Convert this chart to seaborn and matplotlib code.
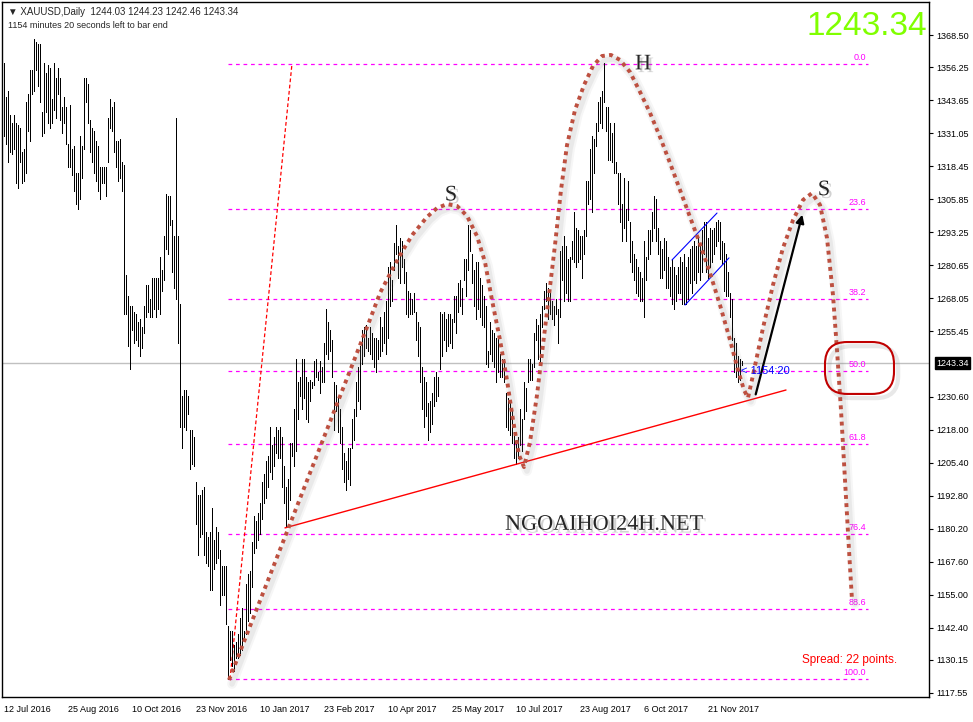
import numpy as np
import matplotlib
matplotlib.use("Agg")
import matplotlib.pyplot as plt
import matplotlib.patheffects as pe
from matplotlib import transforms
from matplotlib.patches import FancyBboxPatch
import seaborn as sns

# daily XAUUSD bars, 12 Jul 2016 .. mid Dec 2017 (high / low)
bar_high = [
    1358, 1345, 1347, 1338, 1335, 1338, 1335, 1334, 1333, 1324,
    1325, 1343, 1346, 1355, 1355, 1367, 1366, 1365, 1365, 1339,
    1358, 1354, 1357, 1356, 1344, 1358, 1352, 1356, 1352, 1341,
    1345, 1341, 1327, 1342, 1325, 1326, 1316, 1316, 1330, 1326,
    1352, 1352, 1350, 1336, 1333, 1332, 1328, 1326, 1318, 1318,
    1318, 1318, 1337, 1344, 1341, 1343, 1328, 1328, 1329, 1320,
    1319, 1277, 1269, 1265, 1265, 1263, 1262, 1259, 1260, 1257,
    1265, 1273, 1273, 1268, 1276, 1276, 1276, 1276, 1284, 1279,
    1292, 1308, 1307, 1307, 1298, 1292, 1337, 1292, 1266, 1231,
    1233, 1233, 1231, 1218, 1218, 1215, 1198, 1193, 1193, 1195,
    1196, 1179, 1177, 1179, 1188, 1176, 1181, 1179, 1172, 1166,
    1166, 1166, 1143, 1141, 1141, 1136, 1137, 1140, 1146, 1150,
    1141, 1159, 1163, 1164, 1175, 1185, 1183, 1186, 1190, 1198,
    1201, 1206, 1208, 1219, 1212, 1215, 1219, 1218, 1219, 1215,
    1204, 1196, 1199, 1213, 1213, 1226, 1245, 1236, 1238, 1245,
    1245, 1238, 1236, 1237, 1236, 1244, 1245, 1240, 1244, 1242,
    1251, 1264, 1259, 1256, 1252, 1236, 1235, 1231, 1226, 1219,
    1209, 1206, 1211, 1211, 1222, 1226, 1236, 1242, 1250, 1256,
    1257, 1258, 1253, 1257, 1255, 1253, 1253, 1252, 1261, 1257,
    1263, 1267, 1280, 1282, 1275, 1289, 1296, 1288, 1291, 1290,
    1283, 1278, 1271, 1270, 1268, 1270, 1263, 1259, 1257, 1242,
    1238, 1236, 1228, 1229, 1232, 1238, 1240, 1238, 1263, 1262,
    1263, 1260, 1262, 1262, 1260, 1269, 1269, 1274, 1275, 1272,
    1283, 1283, 1296, 1294, 1285, 1279, 1282, 1282, 1276, 1273,
    1269, 1265, 1248, 1259, 1256, 1255, 1253, 1253, 1247, 1245,
    1245, 1232, 1230, 1229, 1226, 1217, 1214, 1215, 1226, 1222,
    1236, 1234, 1245, 1245, 1243, 1255, 1260, 1258, 1262, 1265,
    1271, 1274, 1272, 1270, 1267, 1265, 1268, 1264, 1286, 1288,
    1292, 1288, 1283, 1284, 1290, 1301, 1295, 1294, 1292, 1292,
    1294, 1313, 1313, 1325, 1330, 1329, 1335, 1343, 1345, 1347,
    1358, 1341, 1341, 1335, 1331, 1335, 1320, 1316, 1316, 1304,
    1314, 1302, 1313, 1297, 1290, 1285, 1283, 1280, 1278, 1276,
    1290, 1284, 1294, 1294, 1301, 1307, 1306, 1295, 1290, 1287,
    1291, 1290, 1284, 1280, 1283, 1280, 1277, 1280, 1284, 1282,
    1285, 1280, 1284, 1287, 1288, 1290, 1288, 1292, 1289, 1294,
    1297, 1297, 1291, 1295, 1294, 1295, 1297, 1298, 1297, 1290,
    1289, 1285, 1278, 1270, 1268, 1253, 1251, 1246, 1245, 1244.23,
]
bar_low = [
    1330, 1327, 1320, 1324, 1323, 1325, 1312, 1310, 1320, 1312,
    1313, 1316, 1332, 1328, 1346, 1347, 1355, 1349, 1343, 1330,
    1331, 1339, 1335, 1333, 1335, 1340, 1337, 1346, 1336, 1331,
    1335, 1327, 1318, 1318, 1315, 1309, 1304, 1302, 1306, 1314,
    1325, 1343, 1335, 1324, 1320, 1316, 1313, 1309, 1306, 1312,
    1312, 1307, 1320, 1333, 1332, 1324, 1318, 1313, 1314, 1309,
    1262, 1262, 1250, 1241, 1256, 1251, 1252, 1250, 1246, 1249,
    1255, 1261, 1263, 1261, 1261, 1264, 1261, 1264, 1262, 1271,
    1275, 1287, 1285, 1296, 1278, 1272, 1268, 1251, 1219, 1211,
    1219, 1218, 1224, 1203, 1205, 1204, 1182, 1170, 1177, 1178,
    1170, 1167, 1166, 1157, 1157, 1165, 1167, 1169, 1151, 1155,
    1155, 1144, 1123, 1130, 1128, 1126, 1131, 1131, 1132, 1134,
    1138, 1140, 1145, 1148, 1158, 1171, 1173, 1176, 1178, 1184,
    1190, 1192, 1196, 1202, 1199, 1204, 1209, 1207, 1207, 1196,
    1190, 1181, 1184, 1191, 1208, 1204, 1210, 1222, 1231, 1226,
    1230, 1222, 1221, 1229, 1234, 1235, 1238, 1237, 1232, 1236,
    1236, 1247, 1245, 1248, 1238, 1218, 1225, 1217, 1213, 1203,
    1198, 1195, 1199, 1197, 1211, 1214, 1223, 1229, 1226, 1243,
    1246, 1249, 1248, 1247, 1245, 1242, 1240, 1245, 1246, 1248,
    1251, 1247, 1253, 1265, 1267, 1279, 1285, 1276, 1274, 1280,
    1274, 1262, 1261, 1262, 1262, 1263, 1252, 1246, 1236, 1226,
    1219, 1223, 1214, 1217, 1220, 1227, 1229, 1231, 1241, 1246,
    1252, 1248, 1250, 1251, 1249, 1259, 1255, 1263, 1265, 1262,
    1275, 1269, 1279, 1286, 1274, 1265, 1260, 1264, 1261, 1258,
    1257, 1243, 1242, 1247, 1244, 1242, 1236, 1240, 1238, 1238,
    1236, 1219, 1218, 1216, 1213, 1207, 1205, 1207, 1212, 1210,
    1222, 1225, 1236, 1237, 1237, 1242, 1252, 1245, 1243, 1257,
    1264, 1267, 1260, 1262, 1260, 1258, 1262, 1251, 1261, 1275,
    1267, 1270, 1267, 1267, 1283, 1282, 1280, 1282, 1283, 1276,
    1285, 1292, 1304, 1306, 1301, 1316, 1326, 1332, 1335, 1333,
    1343, 1332, 1321, 1321, 1320, 1316, 1316, 1304, 1297, 1290,
    1295, 1290, 1298, 1282, 1278, 1275, 1270, 1269, 1267, 1267,
    1261, 1275, 1283, 1285, 1290, 1295, 1290, 1285, 1276, 1276,
    1279, 1272, 1272, 1269, 1266, 1264, 1267, 1270, 1270, 1266,
    1266, 1266, 1268, 1274, 1270, 1275, 1274, 1278, 1275, 1278,
    1285, 1278, 1276, 1280, 1282, 1285, 1288, 1290, 1283, 1281,
    1271, 1269, 1269, 1261, 1252, 1240, 1238, 1236, 1237, 1242.46,
]

date_labels = ["12 Jul 2016", "25 Aug 2016", "10 Oct 2016", "23 Nov 2016",
               "10 Jan 2017", "23 Feb 2017", "10 Apr 2017", "25 May 2017",
               "10 Jul 2017", "23 Aug 2017", "6 Oct 2017", "21 Nov 2017"]
bars_per_label = 32

price_ticks = [1368.50, 1356.25, 1343.65, 1331.05, 1318.45, 1305.85, 1293.25,
               1280.65, 1268.05, 1255.45, 1230.60, 1218.00, 1205.40, 1192.80,
               1180.20, 1167.60, 1155.00, 1142.40, 1130.15, 1117.55]
last_price = 1243.34

# fibonacci retracement (swing high Sep 2017 -> swing low Dec 2016)
fib_high = 1357.6
fib_low = 1122.8
fib_levels = [0.0, 23.6, 38.2, 50.0, 61.8, 76.4, 88.6, 100.0]
fib_start, fib_end = 112, 432

# hand drawn head & shoulders outline (bar index, price)
hs_x = [112.5, 182.5, 188, 194.5, 199.5, 204.5, 211.5, 216.5, 221.5, 226.5,
        231.5, 236.5, 240.5, 244, 248, 251.5, 254.5, 257.5, 260, 263,
        266.5, 269.5, 272.5, 275.5, 278.5, 281.5, 285.5, 290, 294.5, 299,
        303.5, 308, 313, 318, 323, 328, 333, 338, 343, 348,
        353, 358, 363, 367, 370, 372, 374.5, 379.5, 384.5, 389.5,
        394.5, 399.5, 404, 408, 411.5, 414.5, 416.5, 418.5, 420.5, 422.5, 424]
hs_y = [1122.5, 1259.0, 1270.1, 1279.6, 1286.5, 1292.6, 1299.1, 1302.5, 1304.0, 1303.3,
        1299.5, 1291.8, 1281.9, 1267.4, 1252.2, 1236.9, 1221.7, 1208.3, 1203.7, 1213.3,
        1231.2, 1250.3, 1269.3, 1288.4, 1309.4, 1326.5, 1339.9, 1349.4, 1356.7, 1360.5,
        1360.9, 1359.0, 1354.4, 1346.8, 1338.8, 1329.6, 1319.7, 1309.4, 1299.1, 1288.8,
        1277.7, 1265.5, 1252.2, 1240.7, 1233.1, 1230.1, 1238.8, 1256.8, 1273.2, 1287.3,
        1297.9, 1305.6, 1308.2, 1303.7, 1291.1, 1269.3, 1248.4, 1225.5, 1198.8, 1172.1, 1153.0]

support_x = [140.5, 391]
support_y = [1180.5, 1233.1]
fib_anchor_x = [113, 144]
fib_anchor_y = [fib_low, fib_high]
channel_up_x, channel_up_y = [334, 356.5], [1282.7, 1300.6]
channel_dn_x, channel_dn_y = [340.5, 362.5], [1265.5, 1283.5]
arrow_from = (375.5, 1230.4)
arrow_to = (399.5, 1301.0)

sns.set_style("white")
plt.rcParams['font.family'] = ['Liberation Sans', 'DejaVu Sans']

W, H = 973, 722
fig = plt.figure(figsize=(W / 100, H / 100), dpi=100)
ax = fig.add_axes([2 / W, 25 / H, 927 / W, 695 / H])
ax.set_xlim(-1, 462.5)
ax.set_ylim(1116.0, 1381.1)

idx = np.arange(len(bar_high))
ax.vlines(idx, bar_low, bar_high, color="black", lw=0.7, antialiased=False, zorder=3)

# current price line
ax.axhline(last_price, color="#c0c0c0", lw=1, zorder=1)

# fibonacci levels
for lvl in fib_levels:
    p = fib_high - lvl / 100 * (fib_high - fib_low)
    ax.hlines(p, fib_start, fib_end, color="#ff00ff", lw=0.9, linestyles=(0, (3, 3)), zorder=2)
    ax.text(fib_end - 1, p + 0.8, f"{lvl:.1f}", color="#ff00ff", fontsize=6.5, ha="right", va="bottom")
ax.plot(fib_anchor_x, fib_anchor_y, color="red", lw=0.9, ls=(0, (3, 2)), zorder=2)

# trendlines
sns.lineplot(x=support_x, y=support_y, color="red", lw=1, ax=ax, zorder=4)
ax.plot(channel_up_x, channel_up_y, color="blue", lw=0.8, zorder=4)
ax.plot(channel_dn_x, channel_dn_y, color="blue", lw=0.8, zorder=4)

# head & shoulders outline with soft shadow
shadow = transforms.offset_copy(ax.transData, fig=fig, x=3, y=-4, units="dots")
ax.plot(hs_x, hs_y, color="gray", lw=7, alpha=0.07, transform=shadow, solid_capstyle="round", zorder=4)
ax.plot(hs_x, hs_y, color="gray", lw=4, alpha=0.10, transform=shadow, solid_capstyle="round", zorder=4)
sns.lineplot(x=hs_x, y=hs_y, sort=False, estimator=None, color="#bd5040", lw=2.8,
             linestyle=(0, (1, 1.1)), dash_capstyle="butt", ax=ax, zorder=5)

ax.annotate("", xy=arrow_to, xytext=arrow_from,
            arrowprops=dict(arrowstyle="-|>", color="black", lw=1.6, mutation_scale=12),
            zorder=6)

shadow_txt = [pe.withSimplePatchShadow(offset=(2, -2), shadow_rgbFace="gray", alpha=0.35)]
serif = ["Liberation Serif", "DejaVu Serif"]
ax.text(223.5, 1303.5, "S", fontsize=16, family=serif, ha="center", va="bottom", path_effects=shadow_txt)
ax.text(319.5, 1353.5, "H", fontsize=16, family=serif, ha="center", va="bottom", path_effects=shadow_txt)
ax.text(410, 1305.5, "S", fontsize=16, family=serif, ha="center", va="bottom", path_effects=shadow_txt)
ax.text(300, 1181.5, "NGOAIHOI24H.NET", fontsize=16, family=serif, ha="center", va="center",
        path_effects=shadow_txt)

ax.text(368.5, 1240.4, "< 1154:20", color="blue", fontsize=8, ha="left", va="center", zorder=6)

box = FancyBboxPatch((410.5, 1231.6), 34.5, 19.8, boxstyle="round,pad=0,rounding_size=11",
                     mutation_aspect=0.763, fill=False, edgecolor="#c00000", lw=1.5, zorder=6,
                     path_effects=[pe.SimpleLineShadow(offset=(3, -3), shadow_color="gray", alpha=0.18,
                                                       linewidth=3), pe.Normal()])
ax.add_patch(box)

ax.text(446.5, 1130.1, "Spread: 22 points.", color="red", fontsize=8.5, ha="right", va="center")
ax.text(0.9975, 0.965, f"{last_price:.2f}", color="#80ff00", fontsize=24, ha="right", va="center",
        transform=ax.transAxes)

# axes styling
for s in ax.spines.values():
    s.set_color("black")
    s.set_linewidth(1)
ax.yaxis.tick_right()
ax.set_yticks(price_ticks)
ax.set_yticklabels([f"{p:.2f}" for p in price_ticks])
ax.set_xticks(np.arange(len(date_labels)) * bars_per_label)
ax.set_xticklabels(date_labels, ha="left")
ax.tick_params(axis="both", direction="out", length=3, width=0.8, labelsize=6.5, pad=2, colors="black")
ax.tick_params(axis="x", pad=3)
ax.grid(False)

ax.annotate(f"{last_price:.2f}", xy=(1.0, last_price), xycoords=ax.get_yaxis_transform(),
            xytext=(5, 0), textcoords="offset points", color="white", fontsize=6.5, va="center",
            ha="left", bbox=dict(boxstyle="square,pad=0.15", fc="black", ec="black"),
            annotation_clip=False)

fig.text(8 / W, 1 - 12 / H, "▼ XAUUSD,Daily  1244.03 1244.23 1242.46 1243.34", fontsize=7,
         va="center", ha="left")
fig.text(8 / W, 1 - 25 / H, "1154 minutes 20 seconds left to bar end", fontsize=6.5,
         va="center", ha="left")

fig.savefig("out.png", dpi=100)
